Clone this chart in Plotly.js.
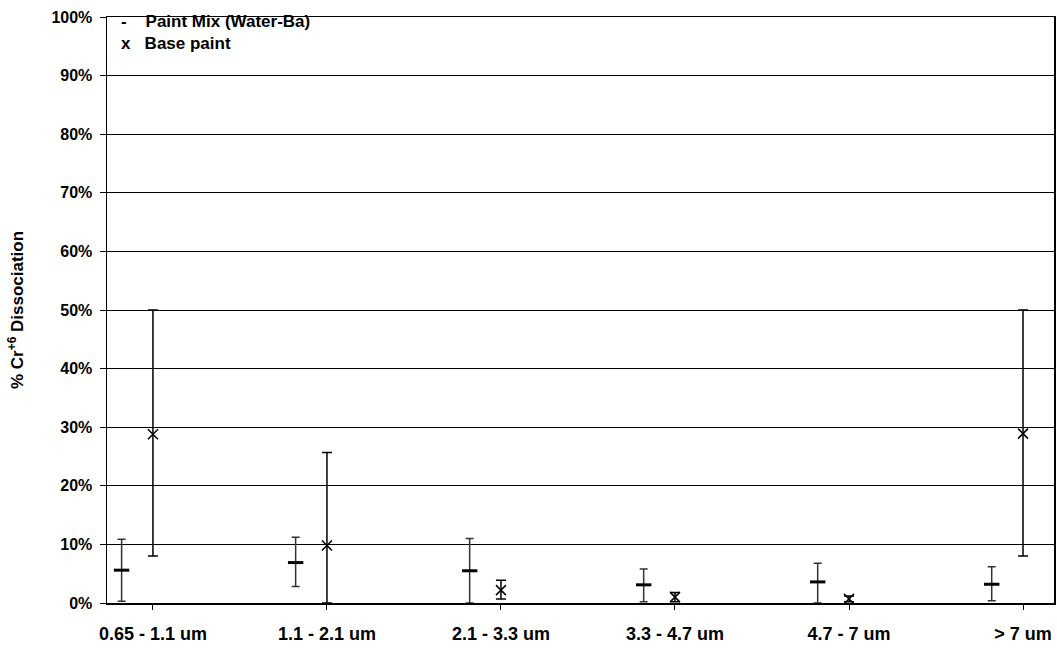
<!DOCTYPE html>
<html>
<head>
<meta charset="utf-8">
<script src="https://cdn.plot.ly/plotly-3.0.1.min.js"></script>
<style>html,body{margin:0;padding:0;background:#fff;}#chart{width:1057px;height:652px;}</style>
</head>
<body>
<div id="chart"></div>
<script>
const categories = ["0.65 - 1.1 um", "1.1 - 2.1 um", "2.1 - 3.3 um", "3.3 - 4.7 um", "4.7 - 7 um", "> 7 um"];
const paintMix = [5.6, 6.9, 5.5, 3.1, 3.6, 3.2];
const paintMixHigh = [10.9, 11.2, 11.0, 5.8, 6.8, 6.2];
const paintMixLow = [0.3, 2.8, 0.0, 0.2, 0.0, 0.4];
const basePaint = [28.8, 9.8, 2.2, 1.0, 0.7, 28.9];
const basePaintHigh = [50.0, 25.7, 3.9, 1.8, 1.2, 50.0];
const basePaintLow = [8.0, 0.0, 0.7, 0.2, 0.2, 8.0];
const yTicks = [0, 10, 20, 30, 40, 50, 60, 70, 80, 90, 100];

const idx = categories.map((_, i) => i);
const fam = "Liberation Sans, Arial, sans-serif";

const traces = [
  {
    name: "Paint Mix (Water-Ba)",
    type: "scatter", mode: "markers",
    x: idx.map(i => i - 0.18), y: paintMix,
    marker: {symbol: "line-ew", size: 11, color: "#000", line: {width: 3, color: "#000"}},
    error_y: {type: "data", symmetric: false,
      array: paintMix.map((v, i) => paintMixHigh[i] - v),
      arrayminus: paintMix.map((v, i) => v - paintMixLow[i]),
      color: "#333", thickness: 1.5, width: 4},
    showlegend: false
  },
  {
    name: "Base paint",
    type: "scatter", mode: "markers",
    x: idx, y: basePaint,
    marker: {symbol: "x-thin", size: 10, color: "#000", line: {width: 1.5, color: "#000"}},
    error_y: {type: "data", symmetric: false,
      array: basePaint.map((v, i) => basePaintHigh[i] - v),
      arrayminus: basePaint.map((v, i) => v - basePaintLow[i]),
      color: "#000", thickness: 1.5, width: 5},
    showlegend: false
  }
];

const layout = {
  width: 1057, height: 652,
  margin: {l: 107, r: 3, t: 17, b: 49},
  paper_bgcolor: "#fff", plot_bgcolor: "#fff",
  font: {family: fam, size: 16, color: "#000"},
  showlegend: false,
  xaxis: {
    type: "linear", range: [-0.264, 5.178],
    tickmode: "array", tickvals: idx, ticktext: categories,
    ticks: "outside", ticklen: 5, tickcolor: "#000", tickwidth: 1,
    ticklabelstandoff: 9,
    showgrid: false, zeroline: false,
    showline: true, linecolor: "#000", linewidth: 1.5, mirror: true,
    tickfont: {family: fam, size: 18, color: "#000", weight: "bold"}
  },
  yaxis: {
    range: [0, 100],
    tickmode: "array", tickvals: yTicks, ticktext: yTicks.map(v => v + "%"),
    ticks: "outside", ticklen: 6, tickcolor: "#000", tickwidth: 1,
    ticklabelstandoff: 4,
    showgrid: true, gridcolor: "#000", gridwidth: 1,
    zeroline: false,
    showline: true, linecolor: "#000", linewidth: 1.5, mirror: true,
    tickfont: {family: fam, size: 16, color: "#000", weight: "bold"},
    title: {text: "% Cr<sup>+6</sup> Dissociation", standoff: 23,
      font: {family: fam, size: 17, color: "#000", weight: "bold"}}
  },
  annotations: [
    {xref: "paper", yref: "paper", x: 0.013, y: 0.9915, xanchor: "left", yanchor: "middle",
     align: "left", showarrow: false,
     text: "<b>-&nbsp;&nbsp;&nbsp;&nbsp;Paint Mix (Water-Ba)</b>",
     font: {family: fam, size: 17, color: "#000"}},
    {xref: "paper", yref: "paper", x: 0.013, y: 0.954, xanchor: "left", yanchor: "middle",
     align: "left", showarrow: false,
     text: "<b>x&nbsp;&nbsp;&nbsp;Base paint</b>",
     font: {family: fam, size: 17, color: "#000"}}
  ]
};

Plotly.newPlot("chart", traces, layout, {displayModeBar: false, staticPlot: true});
</script>
</body>
</html>
